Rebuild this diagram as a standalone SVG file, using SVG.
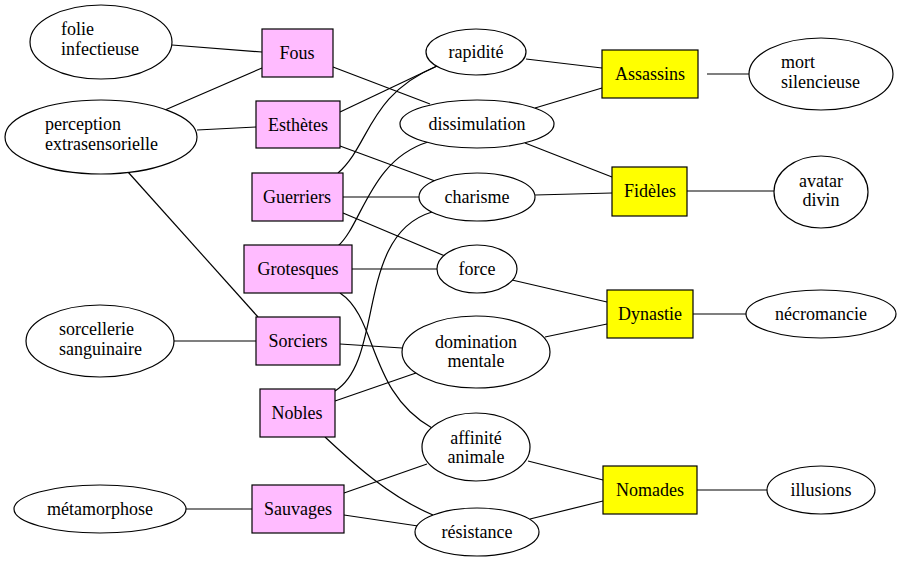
<svg xmlns="http://www.w3.org/2000/svg" width="902" height="562" viewBox="0 0 902 562" font-family="'Liberation Serif', 'DejaVu Serif', serif">
<style>
text{font-family:'Liberation Serif','DejaVu Serif',serif;font-size:18px;fill:#000}
.c{text-anchor:middle}
.e{fill:#fff;stroke:#000;stroke-width:1.2}
.p{fill:#ffbbff;stroke:#000;stroke-width:1.2}
.y{fill:#ffff00;stroke:#000;stroke-width:1.2}
#edges path{fill:none;stroke:#000;stroke-width:1.2}
</style>
<rect width="902" height="562" fill="#fff"/>
<g id="edges">
<path d="M172,45 L262,52"/>
<path d="M165,110 L262,68"/>
<path d="M197,130 L256,127"/>
<path d="M128,172 L258,317"/>
<path d="M174,341 L256,341"/>
<path d="M186,509 L252,509"/>
<path d="M333,67 L430,104"/>
<path d="M340,112 L437,66"/>
<path d="M338,173 C370,145 368,95 437,66"/>
<path d="M340,146 L435,181"/>
<path d="M343,197 L419,197"/>
<path d="M343,213 L445,256"/>
<path d="M338,246 C362,225 370,160 428,142"/>
<path d="M352,269 L437,269"/>
<path d="M340,293 C378,318 368,392 432,428"/>
<path d="M335,391 C385,360 355,235 432,212"/>
<path d="M340,344 L402,348"/>
<path d="M335,401 L416,373"/>
<path d="M325,437 C355,465 390,497 433,515"/>
<path d="M344,493 L427,464"/>
<path d="M344,515 L418,526"/>
<path d="M526,59 L602,68"/>
<path d="M535,108 L602,88"/>
<path d="M525,143 L612,177"/>
<path d="M535,195 L612,193"/>
<path d="M512,280 L607,302"/>
<path d="M545,337 L607,324"/>
<path d="M528,461 L603,480"/>
<path d="M530,519 L603,501"/>
<path d="M707,74 L749,74"/>
<path d="M687,191 L774,191"/>
<path d="M693,314 L746,314"/>
<path d="M697,490 L767,490"/>
</g>
<g id="folie"><ellipse class="e" cx="101" cy="42" rx="71" ry="37"/><text x="61" y="35">folie</text><text x="61" y="55">infectieuse</text></g>
<g id="perception"><ellipse class="e" cx="101" cy="137" rx="96" ry="37"/><text x="45" y="130">perception</text><text x="45" y="150">extrasensorielle</text></g>
<g id="sorcellerie"><ellipse class="e" cx="100" cy="341" rx="74" ry="36"/><text x="59" y="335">sorcellerie</text><text x="59" y="355">sanguinaire</text></g>
<g id="metamorphose"><ellipse class="e" cx="100" cy="509" rx="86" ry="24"/><text class="c" x="100" y="515">métamorphose</text></g>
<g id="fous"><rect class="p" x="262" y="29" width="71" height="48"/><text class="c" x="297" y="59">Fous</text></g>
<g id="esthetes"><rect class="p" x="256" y="101" width="84" height="47"/><text class="c" x="298" y="131">Esthètes</text></g>
<g id="guerriers"><rect class="p" x="252" y="173" width="91" height="48"/><text class="c" x="297" y="203">Guerriers</text></g>
<g id="grotesques"><rect class="p" x="244" y="245" width="108" height="48"/><text class="c" x="298" y="275">Grotesques</text></g>
<g id="sorciers"><rect class="p" x="256" y="317" width="84" height="48"/><text class="c" x="298" y="347">Sorciers</text></g>
<g id="nobles"><rect class="p" x="260" y="389" width="75" height="48"/><text class="c" x="297" y="419">Nobles</text></g>
<g id="sauvages"><rect class="p" x="252" y="485" width="92" height="48"/><text class="c" x="298" y="515">Sauvages</text></g>
<g id="rapidite"><ellipse class="e" cx="476" cy="52" rx="50" ry="23"/><text class="c" x="476" y="58">rapidité</text></g>
<g id="dissimulation"><ellipse class="e" cx="477" cy="124" rx="77" ry="24"/><text class="c" x="477" y="130">dissimulation</text></g>
<g id="charisme"><ellipse class="e" cx="477" cy="197" rx="58" ry="24"/><text class="c" x="477" y="203">charisme</text></g>
<g id="force"><ellipse class="e" cx="477" cy="269" rx="40" ry="24"/><text class="c" x="477" y="275">force</text></g>
<g id="domination"><ellipse class="e" cx="476" cy="352" rx="74" ry="36"/><text class="c" x="476" y="348">domination</text><text class="c" x="476" y="367">mentale</text></g>
<g id="affinite"><ellipse class="e" cx="476" cy="447" rx="54" ry="34"/><text class="c" x="476" y="444">affinité</text><text class="c" x="476" y="463">animale</text></g>
<g id="resistance"><ellipse class="e" cx="477" cy="532" rx="62" ry="24"/><text class="c" x="477" y="538">résistance</text></g>
<g id="assassins"><rect class="y" x="602" y="50" width="96" height="48"/><text class="c" x="650" y="80">Assassins</text></g>
<g id="fideles"><rect class="y" x="612" y="167" width="75" height="49"/><text class="c" x="650" y="197">Fidèles</text></g>
<g id="dynastie"><rect class="y" x="607" y="290" width="86" height="48"/><text class="c" x="650" y="320">Dynastie</text></g>
<g id="nomades"><rect class="y" x="603" y="466" width="94" height="48"/><text class="c" x="650" y="496">Nomades</text></g>
<g id="mort"><ellipse class="e" cx="821" cy="74" rx="72" ry="36"/><text x="781" y="68">mort</text><text x="781" y="88">silencieuse</text></g>
<g id="avatar"><ellipse class="e" cx="821" cy="192" rx="47" ry="36"/><text class="c" x="821" y="187">avatar</text><text class="c" x="821" y="206">divin</text></g>
<g id="necromancie"><ellipse class="e" cx="821" cy="314" rx="75" ry="24"/><text class="c" x="821" y="320">nécromancie</text></g>
<g id="illusions"><ellipse class="e" cx="821" cy="490" rx="54" ry="24"/><text class="c" x="821" y="496">illusions</text></g>
</svg>
